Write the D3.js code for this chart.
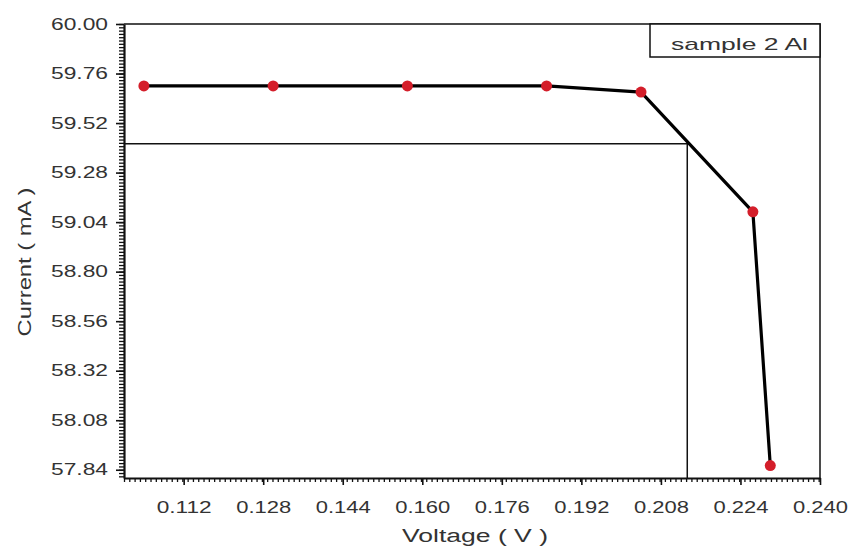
<!DOCTYPE html>
<html>
<head>
<meta charset="utf-8">
<script src="https://cdn.jsdelivr.net/npm/d3@7"></script>
<style>
  html, body { margin: 0; padding: 0; background: #fff; }
  svg { display: block; }
  text { font-family: "Liberation Sans", Arial, sans-serif; fill: #333; }
</style>
</head>
<body>
<svg id="chart" width="852" height="550"></svg>
<script>
// Measured I-V points
const voltage = [0.104, 0.130, 0.157, 0.185, 0.204, 0.2265, 0.230];
const current = [59.70, 59.70, 59.70, 59.70, 59.67, 59.09, 57.86];

// Max-power guide lines (V, I)
const guideVoltage = 0.2133;
const guideCurrent = 59.42;

// Axis ticks
const xTicks = [0.112, 0.128, 0.144, 0.160, 0.176, 0.192, 0.208, 0.224, 0.240];
const yTicks = [57.84, 58.08, 58.32, 58.56, 58.80, 59.04, 59.28, 59.52, 59.76, 60.00];
const xDomain = [0.100, 0.240];
const yDomain = [57.80, 60.00];

const seriesName = "sample 2 Al";
const xTitle = "Voltage ( V )";
const yTitle = "Current ( mA )";

const svg = d3.select("#chart");
const plotLeft = 124, plotRight = 820, plotTop = 24, plotBottom = 478;

const x = d3.scaleLinear().domain(xDomain).range([plotLeft, plotRight]);
const y = d3.scaleLinear().domain(yDomain).range([plotBottom, plotTop]);

// minor ticks: 15 subdivisions between majors
const xMinor = d3.range(0, 141).map(i => xDomain[0] + i * (0.016 / 15))
  .filter(v => v <= xDomain[1] + 1e-9);
const yMinor = d3.range(0, 140).map(i => 57.84 - 0.016 * 2 + i * 0.016)
  .filter(v => v >= yDomain[0] - 1e-9 && v <= yDomain[1] + 1e-9);

// frame (top and right)
svg.append("path")
  .attr("d", `M${plotLeft},${plotTop}H${plotRight}V${plotBottom}`)
  .attr("fill", "none").attr("stroke", "#111").attr("stroke-width", 1.5);

// minor ticks
svg.append("g").attr("transform", `translate(0,${plotBottom})`)
  .call(d3.axisBottom(x).tickValues(xMinor).tickSize(4).tickFormat(""))
  .call(g => g.select(".domain").remove())
  .call(g => g.selectAll("line").attr("stroke", "#111").attr("stroke-width", 1.3));
svg.append("g").attr("transform", `translate(${plotLeft},0)`)
  .call(d3.axisLeft(y).tickValues(yMinor).tickSize(5).tickFormat(""))
  .call(g => g.select(".domain").remove())
  .call(g => g.selectAll("line").attr("stroke", "#111").attr("stroke-width", 1.3));

// major axes
const xAxis = svg.append("g").attr("transform", `translate(0,${plotBottom})`)
  .call(d3.axisBottom(x).tickValues(xTicks).tickSize(7).tickSizeOuter(0)
    .tickPadding(17).tickFormat(d3.format(".3f")));
xAxis.select(".domain").attr("stroke", "#111").attr("stroke-width", 2.2);
xAxis.selectAll(".tick line").attr("stroke", "#111").attr("stroke-width", 1.6);
xAxis.selectAll("text").attr("font-size", 16).attr("fill", "#3a3a3a")
  .attr("textLength", 55).attr("lengthAdjust", "spacingAndGlyphs");

const yAxis = svg.append("g").attr("transform", `translate(${plotLeft},0)`)
  .call(d3.axisLeft(y).tickValues(yTicks).tickSize(8).tickSizeOuter(0)
    .tickPadding(8).tickFormat(d3.format(".2f")));
yAxis.select(".domain").attr("stroke", "#111").attr("stroke-width", 2.2);
yAxis.selectAll(".tick line").attr("stroke", "#111").attr("stroke-width", 1.6);
yAxis.selectAll("text").attr("font-size", 16).attr("fill", "#3a3a3a")
  .attr("textLength", 57).attr("lengthAdjust", "spacingAndGlyphs");

// guide lines
svg.append("path")
  .attr("d", `M${x(xDomain[0])},${y(guideCurrent)}H${x(guideVoltage)}V${y(yDomain[0])}`)
  .attr("fill", "none").attr("stroke", "#111").attr("stroke-width", 1.5);

// I-V curve
const pts = voltage.map((v, i) => [v, current[i]]);
svg.append("path").datum(pts)
  .attr("d", d3.line().x(d => x(d[0])).y(d => y(d[1])))
  .attr("fill", "none").attr("stroke", "#000").attr("stroke-width", 3.2)
  .attr("stroke-linejoin", "round");

svg.append("g").selectAll("circle").data(pts).join("circle")
  .attr("cx", d => x(d[0])).attr("cy", d => y(d[1])).attr("r", 5.5)
  .attr("fill", "#d41e2a");

// legend box
svg.append("rect")
  .attr("x", 650).attr("y", plotTop).attr("width", plotRight - 650).attr("height", 33)
  .attr("fill", "#fff").attr("stroke", "#111").attr("stroke-width", 1.5);
svg.append("text").attr("x", 671).attr("y", 50)
  .attr("font-size", 17).attr("fill", "#333")
  .attr("textLength", 137).attr("lengthAdjust", "spacingAndGlyphs")
  .text(seriesName);

// axis titles
svg.append("text").attr("x", 475).attr("y", 542).attr("text-anchor", "middle")
  .attr("font-size", 18).attr("fill", "#333")
  .attr("textLength", 146).attr("lengthAdjust", "spacingAndGlyphs")
  .text(xTitle);
svg.append("text").attr("transform", "translate(31,262) rotate(-90)")
  .attr("text-anchor", "middle")
  .attr("font-size", 18).attr("fill", "#333")
  .attr("textLength", 149).attr("lengthAdjust", "spacingAndGlyphs")
  .text(yTitle);
</script>
</body>
</html>
